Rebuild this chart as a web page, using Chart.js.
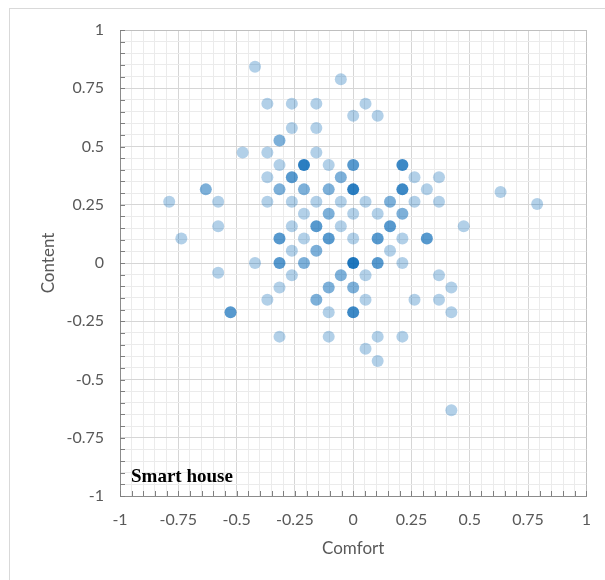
<!DOCTYPE html>
<html>
<head>
<meta charset="utf-8">
<title>Smart house</title>
<script src="https://cdn.jsdelivr.net/npm/chart.js@4.4.1/dist/chart.umd.min.js"></script>
<style>
    body { margin: 0; background: #ffffff; }
    canvas { display: block; }
</style>
</head>
<body>
<canvas id="chart-scatter" width="605" height="580"></canvas>
<script>
// comfort (x), content (y) and how many answers sit on the same spot
const comfort = [
    -0.421, -0.053, -0.368, -0.263, -0.158, 0.053, 0, 0.105, -0.263, -0.158,
    -0.316, -0.474, -0.368, -0.158, -0.316, -0.211, -0.105, 0, 0.211, -0.368,
    -0.263, -0.053, 0.263, 0.368, -0.632, -0.316, -0.211, -0.105, 0, 0.211,
    0.316, 0.632, -0.789, -0.579, -0.368, -0.263, -0.158, -0.053, 0.053, 0.158,
    0.263, 0.368, 0.789, -0.211, -0.105, 0, 0.105, 0.211, -0.579, -0.263,
    -0.158, -0.053, 0.158, 0.474, -0.737, -0.316, -0.211, -0.105, 0, 0.105,
    0.211, 0.316, -0.263, -0.158, 0.158, -0.421, -0.316, -0.211, 0, 0.105,
    0.211, -0.579, -0.263, -0.053, 0.053, 0.368, -0.316, -0.105, 0, 0.421,
    -0.368, -0.158, 0.053, 0.263, 0.368, -0.526, -0.105, 0, 0.421, -0.316,
    -0.105, 0.105, 0.211, 0.053, 0.105, 0.421
];
const content = [
    0.842, 0.789, 0.684, 0.684, 0.684, 0.684, 0.632, 0.632, 0.579, 0.579,
    0.526, 0.474, 0.474, 0.474, 0.421, 0.421, 0.421, 0.421, 0.421, 0.368,
    0.368, 0.368, 0.368, 0.368, 0.316, 0.316, 0.316, 0.316, 0.316, 0.316,
    0.316, 0.305, 0.263, 0.263, 0.263, 0.263, 0.263, 0.263, 0.263, 0.263,
    0.263, 0.263, 0.253, 0.211, 0.211, 0.211, 0.211, 0.211, 0.158, 0.158,
    0.158, 0.158, 0.158, 0.158, 0.105, 0.105, 0.105, 0.105, 0.105, 0.105,
    0.105, 0.105, 0.053, 0.053, 0.053, 0, 0, 0, 0, 0,
    0, -0.042, -0.053, -0.053, -0.053, -0.053, -0.105, -0.105, -0.105, -0.105,
    -0.158, -0.158, -0.158, -0.158, -0.158, -0.211, -0.211, -0.211, -0.211, -0.316,
    -0.316, -0.316, -0.316, -0.368, -0.421, -0.632
];
const counts = [
    1, 1, 1, 1, 1, 1, 1, 1, 1, 1,
    2, 1, 1, 1, 1, 5, 1, 3, 4, 1,
    3, 2, 1, 1, 2, 2, 2, 2, 5, 4,
    1, 1, 1, 1, 1, 1, 1, 1, 1, 2,
    1, 1, 1, 1, 2, 1, 1, 2, 1, 1,
    3, 1, 3, 1, 1, 3, 1, 3, 1, 3,
    1, 3, 1, 2, 1, 1, 3, 2, 6, 3,
    1, 1, 1, 2, 1, 1, 1, 2, 2, 1,
    1, 2, 1, 1, 1, 3, 1, 4, 1, 1,
    1, 1, 1, 1, 1, 1
];
const tickValues = [-1, -0.75, -0.5, -0.25, 0, 0.25, 0.5, 0.75, 1];

const labelFont = 'Lato';
const greyText = '#595959';

// stacked transparency: more answers on one spot -> darker dot
function dotColor(n) {
    let a = 1 - Math.pow(1 - 0.3, n);
    return 'rgba(0, 100, 180, ' + a.toFixed(3) + ')';
}

function isMajor(v) {
    return tickValues.some(function (t) { return Math.abs(t - v) < 1e-6; });
}

function tickLabel(v) {
    if (!isMajor(v)) return '';
    return String(Math.round(v * 100) / 100);
}

function gridColor(ctx) {
    let v = ctx.tick.value;
    if (Math.abs(Math.abs(v) - 1) < 1e-6) return '#bfbfbf';
    return isMajor(v) ? '#d6d6d6' : '#ebebeb';
}

let points = [];
let colors = [];
for (let i = 0; i < comfort.length; i++) {
    points.push({x: comfort[i], y: content[i]});
    colors.push(dotColor(counts[i]));
}

// frame, small inward ticks and the "Smart house" caption
const decorations = {
    id: 'decorations',
    beforeDraw: function (chart) {
        let c = chart.ctx;
        c.save();
        c.fillStyle = '#ffffff';
        c.fillRect(0, 0, chart.width, chart.height);
        c.strokeStyle = '#d9d9d9';
        c.lineWidth = 1;
        c.strokeRect(9.5, 8.5, chart.width + 20, chart.height + 20);
        c.restore();
    },
    afterDraw: function (chart) {
        let c = chart.ctx;
        let area = chart.chartArea;
        let xs = chart.scales.x;
        let ys = chart.scales.y;
        c.save();
        c.strokeStyle = '#7f7f7f';
        c.lineWidth = 1;
        c.beginPath();
        xs.ticks.forEach(function (t) {
            let px = Math.round(xs.getPixelForValue(t.value)) + 0.5;
            c.moveTo(px, area.bottom);
            c.lineTo(px, area.bottom - 5);
        });
        ys.ticks.forEach(function (t) {
            let py = Math.round(ys.getPixelForValue(t.value)) + 0.5;
            c.moveTo(area.left, py);
            c.lineTo(area.left + 5, py);
        });
        c.stroke();
        c.fillStyle = '#000000';
        c.font = 'bold 19px "Liberation Serif", "Times New Roman", serif';
        c.textBaseline = 'alphabetic';
        c.fillText('Smart house', area.left + 11, area.bottom - 14);
        c.restore();
    }
};

let container = document.getElementById('chart-scatter');
let graph = new Chart(container, {
    type: 'scatter',
    data: {
        datasets: [{
            label: 'Smart house',
            data: points,
            backgroundColor: colors,
            borderWidth: 0,
            pointRadius: 6,
            pointHoverRadius: 6
        }]
    },
    options: {
        responsive: false,
        animation: false,
        devicePixelRatio: 1,
        layout: {
            padding: {top: 30, right: 17, left: 0, bottom: 0}
        },
        plugins: {
            legend: {display: false},
            tooltip: {enabled: false}
        },
        scales: {
            x: {
                type: 'linear',
                min: -1,
                max: 1,
                afterFit: function (scale) { scale.height = 84; },
                ticks: {
                    stepSize: 0.05,
                    autoSkip: false,
                    maxRotation: 0,
                    padding: 14,
                    color: greyText,
                    font: {family: labelFont, size: 16},
                    callback: tickLabel
                },
                grid: {color: gridColor, drawTicks: false},
                border: {color: '#8c8c8c', width: 1},
                title: {
                    display: true,
                    text: 'Comfort',
                    color: greyText,
                    font: {family: labelFont, size: 17},
                    padding: {top: 21, bottom: 21}
                }
            },
            y: {
                type: 'linear',
                min: -1,
                max: 1,
                afterFit: function (scale) { scale.width = 120; },
                ticks: {
                    stepSize: 0.05,
                    autoSkip: false,
                    padding: 16,
                    color: greyText,
                    font: {family: labelFont, size: 16},
                    callback: tickLabel
                },
                grid: {color: gridColor, drawTicks: false},
                border: {color: '#8c8c8c', width: 1},
                title: {
                    display: true,
                    text: 'Content',
                    color: greyText,
                    font: {family: labelFont, size: 17},
                    padding: {top: 38, bottom: 38}
                }
            }
        }
    },
    plugins: [decorations]
});
</script>
</body>
</html>
